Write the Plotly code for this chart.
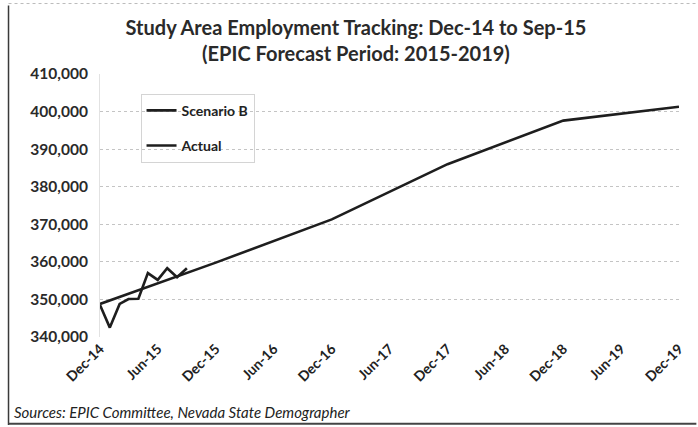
import plotly.graph_objects as go

# Scenario B forecast (annual anchor points, linear between them)
scenario_dates = ["2014-12-01", "2015-12-01", "2016-12-01", "2017-12-01", "2018-12-01", "2019-12-01"]
scenario_values = [348800, 359800, 371300, 386000, 397600, 401300]

# Actual monthly employment, Dec-14 to Sep-15
actual_dates = ["2014-12-01", "2015-01-01", "2015-02-01", "2015-03-01", "2015-04-01",
                "2015-05-01", "2015-06-01", "2015-07-01", "2015-08-01", "2015-09-01"]
actual_values = [348500, 342500, 348800, 350100, 350200, 357000, 355200, 358300, 355900, 358300]

tick_dates = ["2014-12-01", "2015-06-01", "2015-12-01", "2016-06-01", "2016-12-01", "2017-06-01",
              "2017-12-01", "2018-06-01", "2018-12-01", "2019-06-01", "2019-12-01"]
tick_labels = ["Dec-14", "Jun-15", "Dec-15", "Jun-16", "Dec-16", "Jun-17",
               "Dec-17", "Jun-18", "Dec-18", "Jun-19", "Dec-19"]
y_ticks = [340000, 350000, 360000, 370000, 380000, 390000, 400000, 410000]

FONT = "Lato"
INK = "#1e1e1e"

fig = go.Figure()
fig.add_trace(go.Scatter(x=scenario_dates, y=scenario_values, mode="lines", name="Scenario B",
                         legendgroup="a", line=dict(color=INK, width=2.6)))
fig.add_trace(go.Scatter(x=actual_dates, y=actual_values, mode="lines", name="Actual",
                         legendgroup="b", line=dict(color=INK, width=2.6)))

fig.update_layout(
    width=698, height=427,
    margin=dict(l=100, r=16, t=74, b=90),
    paper_bgcolor="white", plot_bgcolor="white",
    font=dict(family=FONT, color=INK),
    title=dict(text="Study Area Employment Tracking: Dec-14 to Sep-15<br>(EPIC Forecast Period: 2015-2019)",
               x=0.51, xanchor="center", y=0.918, yanchor="middle",
               font=dict(family=FONT, size=20, color="#2a2a2a", weight="bold")),
    showlegend=True,
    legend=dict(x=0.07, y=0.925, xanchor="left", yanchor="top",
                bgcolor="rgba(255,255,255,0)", bordercolor="#d4d4d4", borderwidth=1,
                font=dict(family=FONT, size=14, color="#222", weight="bold"),
                tracegroupgap=14, traceorder="grouped", itemwidth=30),
    xaxis=dict(type="date", range=["2014-12-01", "2019-12-01"],
               tickvals=tick_dates, ticktext=tick_labels, tickangle=-45,
               tickfont=dict(family=FONT, size=14, color="#222", weight="bold"),
               showgrid=False, showline=False, zeroline=False, ticks=""),
    yaxis=dict(range=[340000, 410000], tickvals=y_ticks, tickformat=",d",
               tickfont=dict(family=FONT, size=15.5, color="#2a2a2a", weight="bold"),
               showgrid=True, gridcolor="#c4c4c4", griddash="dot", gridwidth=1,
               showline=True, linecolor="#e2e2e2", linewidth=1,
               zeroline=False, ticks="", ticklabelstandoff=8),
)

fig.add_annotation(text="<i>Sources: EPIC Committee, Nevada State Demographer</i>",
                   xref="paper", yref="paper", x=-0.152, y=-0.285, xanchor="left", yanchor="middle",
                   showarrow=False, font=dict(family=FONT, size=15, color="#222"))

# scanned page frame around the chart
fig.add_shape(type="line", xref="paper", yref="paper", x0=-0.158, x1=-0.158, y0=-0.335, y1=1.26,
              line=dict(color="#3a3a3a", width=1.5))
fig.add_shape(type="line", xref="paper", yref="paper", x0=-0.158, x1=1.03, y0=-0.33, y1=-0.33,
              line=dict(color="#444", width=2))
fig.add_shape(type="line", xref="paper", yref="paper", x0=-0.158, x1=1.03, y0=1.268, y1=1.268,
              line=dict(color="#bbbbbb", width=1, dash="dot"))

fig.write_html("out.html")
